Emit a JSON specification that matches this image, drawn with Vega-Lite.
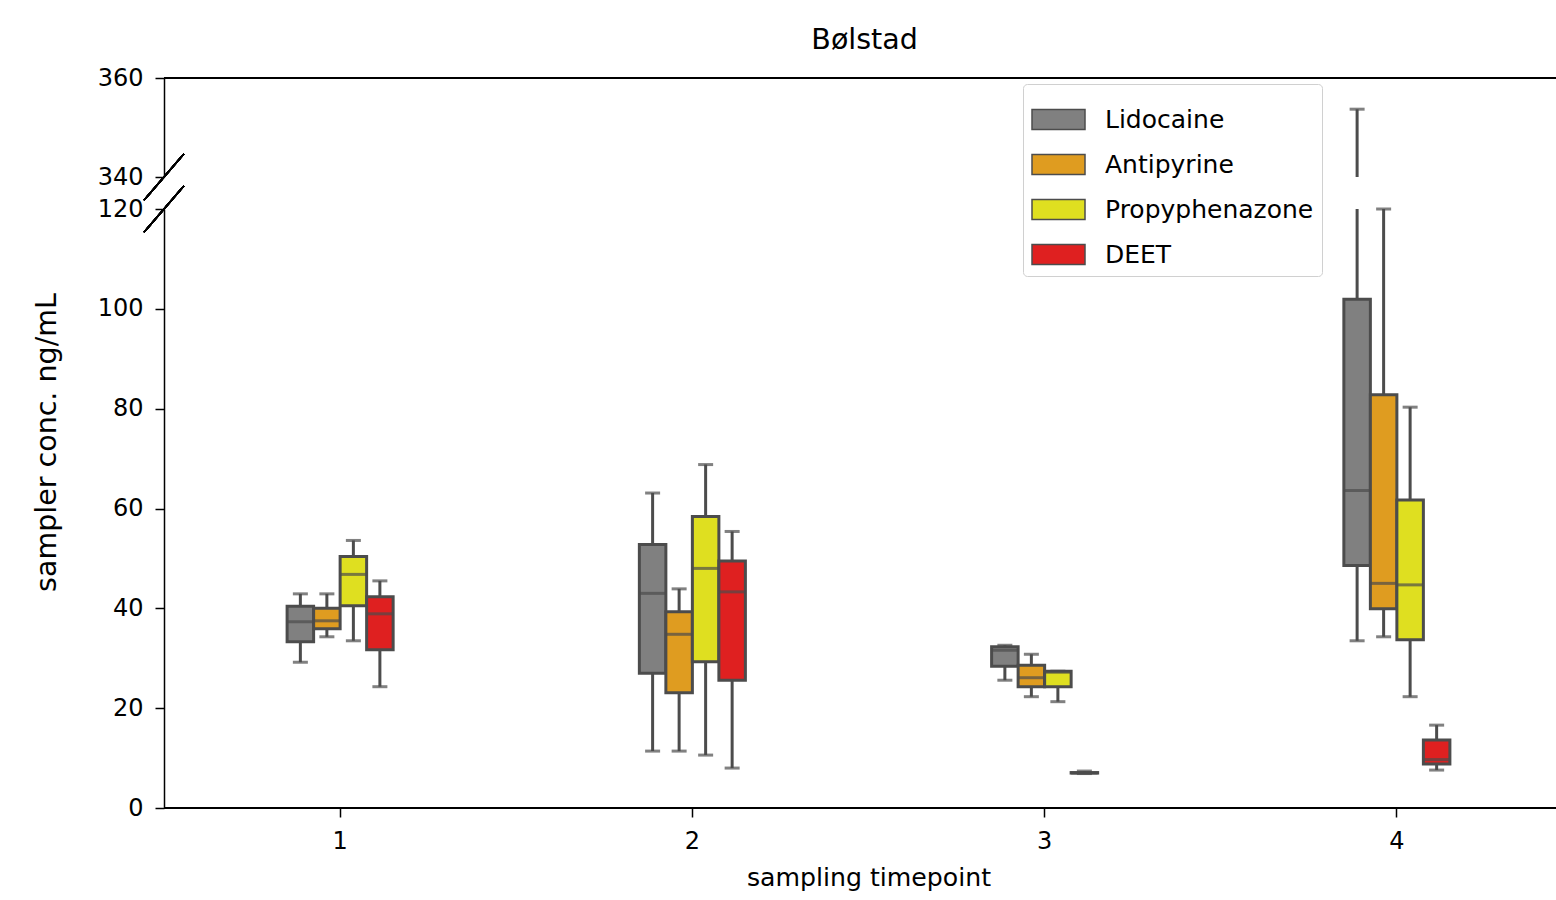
{
  "$schema": "https://vega.github.io/schema/vega-lite/v6.json",
  "padding": {"left": 32, "top": 25, "right": 0, "bottom": 0},
  "bounds": "flush",
  "title": {"text": "Bølstad", "fontSize": 28.5, "font": "DejaVu Sans", "fontWeight": "normal", "color": "#000", "anchor": "middle", "dx": 62, "offset": 12},
  "datasets": {
    "boxes": [
      {"timepoint": "1", "compound": "Lidocaine", "low": 29.2, "q1": 33.3, "median": 37.3, "q3": 40.4, "high": 42.9},
      {"timepoint": "1", "compound": "Antipyrine", "low": 34.3, "q1": 35.9, "median": 37.5, "q3": 40.0, "high": 42.9},
      {"timepoint": "1", "compound": "Propyphenazone", "low": 33.5, "q1": 40.5, "median": 46.8, "q3": 50.4, "high": 53.6},
      {"timepoint": "1", "compound": "DEET", "low": 24.3, "q1": 31.7, "median": 38.9, "q3": 42.3, "high": 45.5},
      {"timepoint": "2", "compound": "Lidocaine", "low": 11.4, "q1": 27.0, "median": 43.0, "q3": 52.8, "high": 63.1},
      {"timepoint": "2", "compound": "Antipyrine", "low": 11.4, "q1": 23.1, "median": 34.8, "q3": 39.3, "high": 43.9},
      {"timepoint": "2", "compound": "Propyphenazone", "low": 10.6, "q1": 29.3, "median": 48.0, "q3": 58.4, "high": 68.8},
      {"timepoint": "2", "compound": "DEET", "low": 8.0, "q1": 25.6, "median": 43.3, "q3": 49.5, "high": 55.4},
      {"timepoint": "3", "compound": "Lidocaine", "low": 25.6, "q1": 28.4, "median": 31.6, "q3": 32.3, "high": 32.6},
      {"timepoint": "3", "compound": "Antipyrine", "low": 22.3, "q1": 24.3, "median": 26.1, "q3": 28.6, "high": 30.8},
      {"timepoint": "3", "compound": "Propyphenazone", "low": 21.3, "q1": 24.3, "median": 27.2, "q3": 27.4, "high": 27.4},
      {"timepoint": "3", "compound": "DEET", "low": 6.9, "q1": 7.0, "median": 7.0, "q3": 7.1, "high": 7.4},
      {"timepoint": "4", "compound": "Lidocaine", "low": 33.5, "q1": 48.6, "median": 63.6, "q3": 101.9, "high": 353.7},
      {"timepoint": "4", "compound": "Antipyrine", "low": 34.3, "q1": 39.9, "median": 45.0, "q3": 82.8, "high": 120.0},
      {"timepoint": "4", "compound": "Propyphenazone", "low": 22.3, "q1": 33.7, "median": 44.7, "q3": 61.7, "high": 80.3},
      {"timepoint": "4", "compound": "DEET", "low": 7.6, "q1": 8.8, "median": 9.7, "q3": 13.6, "high": 16.6}
    ]
  },
  "spacing": 32,
  "resolve": {"scale": {"y": "independent", "x": "shared", "xOffset": "shared", "color": "shared"}},
  "vconcat": [
    {
      "width": 1393,
      "height": 99,
      "data": {"name": "boxes"},
      "layer": [
        {
          "transform": [{"filter": "datum.high > 340"}],
          "encoding": {
            "x": {"field": "timepoint", "type": "nominal", "scale": {"range": [0, 1409], "paddingInner": 0.699, "paddingOuter": 0.3495}, "axis": null},
            "xOffset": {"field": "compound", "type": "nominal", "scale": {"domain": ["Lidocaine", "Antipyrine", "Propyphenazone", "DEET"], "paddingInner": 0, "paddingOuter": 0}}
          },
          "layer": [
            {
              "mark": {"type": "rule", "clip": true, "color": "#4c4c4c", "strokeWidth": 3},
              "encoding": {
                "y": {"field": "low", "type": "quantitative", "scale": {"domain": [340, 360], "nice": false, "zero": false},
                      "axis": {"values": [340, 360], "title": null, "domain": true}},
                "y2": {"field": "high"}
              }
            },
            {
              "mark": {"type": "tick", "color": "#4c4c4c", "thickness": 3, "size": 15},
              "encoding": {"y": {"field": "high", "type": "quantitative"}}
            }
          ]
        },
        {
          "mark": {"type": "rule", "color": "#000", "strokeWidth": 1.5},
          "encoding": {"y": {"datum": 360}}
        },
        {
          "mark": {"type": "point", "shape": "M-1,1.165L1,-1.165", "size": 1600, "filled": false, "stroke": "#000", "strokeWidth": 1.5, "opacity": 1},
          "encoding": {"x": {"value": 0}, "y": {"datum": 340}}
        }
      ]
    },
    {
      "width": 1393,
      "height": 599,
      "data": {"name": "boxes"},
      "layer": [
        {
          "encoding": {
            "x": {"field": "timepoint", "type": "nominal", "scale": {"range": [0, 1409], "paddingInner": 0.699, "paddingOuter": 0.3495},
                  "axis": {"title": "sampling timepoint", "domain": false, "labelAngle": 0, "titleFontSize": 25.2, "titlePadding": 12, "labelPadding": 12}},
            "xOffset": {"field": "compound", "type": "nominal", "scale": {"domain": ["Lidocaine", "Antipyrine", "Propyphenazone", "DEET"], "paddingInner": 0, "paddingOuter": 0}}
          },
          "layer": [
            {
              "mark": {"type": "rule", "clip": true, "color": "#4c4c4c", "strokeWidth": 3},
              "encoding": {
                "y": {"field": "low", "type": "quantitative", "scale": {"domain": [0, 120], "nice": false, "zero": false},
                      "axis": {"values": [0, 20, 40, 60, 80, 100, 120], "title": "sampler conc. ng/mL", "titleFontSize": 28.5, "titlePadding": 36, "titleY": 233}},
                "y2": {"field": "high"}
              }
            },
            {
              "mark": {"type": "tick", "color": "#4c4c4c", "thickness": 3, "size": 15},
              "encoding": {"y": {"field": "low", "type": "quantitative"}}
            },
            {
              "transform": [{"filter": "datum.high <= 121"}],
              "mark": {"type": "tick", "color": "#4c4c4c", "thickness": 3, "size": 15},
              "encoding": {"y": {"field": "high", "type": "quantitative"}}
            },
            {
              "mark": {"type": "bar", "stroke": "#4c4c4c", "strokeWidth": 3, "opacity": 1},
              "encoding": {
                "y": {"field": "q1", "type": "quantitative"},
                "y2": {"field": "q3"},
                "fill": {"field": "compound", "type": "nominal",
                  "scale": {"domain": ["Lidocaine", "Antipyrine", "Propyphenazone", "DEET"], "range": ["#808080", "#df9c20", "#dfdf20", "#df2020"]},
                  "legend": {"title": null, "orient": "none", "legendX": 859, "legendY": 6,
                    "symbolType": "M-1,-0.377L1,-0.377L1,0.377L-1,0.377Z", "symbolSize": 2809,
                    "symbolStrokeColor": "#4c4c4c", "symbolStrokeWidth": 1.5, "symbolOpacity": 1,
                    "labelFontSize": 25, "labelFont": "DejaVu Sans", "labelColor": "#000", "labelOffset": 19, "labelLimit": 0,
                    "rowPadding": 4, "padding": 8, "strokeColor": "#d0d0d0", "fillColor": "#ffffff", "cornerRadius": 4}
                }
              }
            },
            {
              "mark": {"type": "tick", "color": "#4c4c4c", "thickness": 3, "size": 26.5},
              "encoding": {"y": {"field": "median", "type": "quantitative"}}
            }
          ]
        },
        {
          "mark": {"type": "rule", "color": "#000", "strokeWidth": 1.5},
          "encoding": {"y": {"datum": 0}}
        },
        {
          "mark": {"type": "point", "shape": "M-1,1.165L1,-1.165", "size": 1600, "filled": false, "stroke": "#000", "strokeWidth": 1.5, "opacity": 1},
          "encoding": {"x": {"value": 0}, "y": {"datum": 120}}
        }
      ]
    }
  ],
  "config": {
    "font": "DejaVu Sans",
    "view": {"stroke": null},
    "axis": {"labelFont": "DejaVu Sans", "labelFontSize": 24, "labelColor": "#000", "tickColor": "#000", "domainColor": "#000",
             "tickWidth": 1.5, "domainWidth": 1.5, "tickSize": 9, "labelPadding": 12, "grid": false,
             "titleFont": "DejaVu Sans", "titleFontWeight": "normal", "titleColor": "#000"}
  }
}
